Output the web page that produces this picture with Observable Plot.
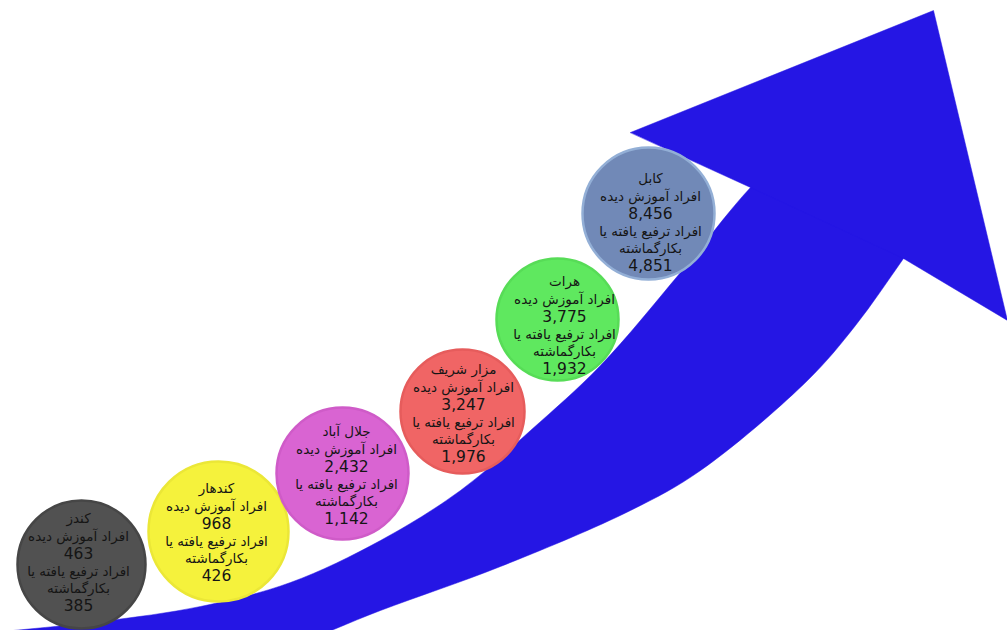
<!DOCTYPE html>
<html>
<head>
<meta charset="utf-8">
<script src="https://cdn.jsdelivr.net/npm/d3@7"></script>
<script src="https://cdn.jsdelivr.net/npm/@observablehq/plot@0.6"></script>
<style>
  html, body { margin: 0; padding: 0; background: #ffffff; }
  #chart svg { display: block; }
</style>
</head>
<body>
<div id="chart"></div>
<script>
// ---- data ----
const cities   = ["کندز", "کندهار", "جلال آباد", "مزار شریف", "هرات", "کابل"];
const trained  = [463, 968, 2432, 3247, 3775, 8456];
const promoted = [385, 426, 1142, 1976, 1932, 4851];
const labelTrained  = "افراد آموزش دیده";
const labelPromoted = ["افراد ترفیع یافته یا", "بکارگماشته"];
const fills   = ["#515151", "#f5f23c", "#d964d2", "#f06565", "#5fe85f", "#7189b7"];
const strokes = ["#464646", "#ebe737", "#cf5bc8", "#e65c5c", "#57dc57", "#93afd6"];

// ---- layout (infographic coordinates, 0..1007 x 0..630) ----
const cx = [81, 218, 342, 462, 557, 648];
const cy = [564, 531, 473, 411, 319, 213];
const cr = [64, 70, 66, 62, 61, 66];
const tx = [78, 216, 346, 463, 564, 650];
const ty = [562, 532, 475, 413, 325, 222];

// arrow outline (shaft drawn smooth, head drawn straight)
const shaftX = [-20, 100, 200, 290, 380, 460, 530, 600, 680, 750, 800, 880, 950, 903, 855, 807, 700, 630, 500, 380, 290, 150, -20];
const shaftY = [633, 621, 606, 582, 540, 490, 430, 365, 272, 187, 140, 120, 190, 258, 325, 380, 470, 510, 566, 610, 645, 680, 680];
const headX = [630, 933, 1007, 903, 750];
const headY = [132, 10, 320, 258, 187];

const shaft = shaftX.map((x, i) => ({x, y: shaftY[i]}));
const head = headX.map((x, i) => ({x, y: headY[i]}));
const fmt = d3.format(",");
const bubbles = cities.map((c, i) => ({
  city: c, cx: cx[i], cy: cy[i], r: cr[i], tx: tx[i], ty: ty[i],
  fill: fills[i], stroke: strokes[i],
  lines: [c, labelTrained, fmt(trained[i]), labelPromoted[0], labelPromoted[1], fmt(promoted[i])]
}));

const arrowBlue = "#2516e4";
const lineStep = 17.4;
const numericLine = [false, false, true, false, false, true];

const textMarks = numericLine.map((isNum, k) =>
  Plot.text(bubbles, {
    x: "tx", y: "ty", dy: (k - 2.5) * lineStep,
    text: d => d.lines[k],
    fontSize: isNum ? 15.5 : 13.5, fill: "#151515",
    fontFamily: "DejaVu Sans, sans-serif", textAnchor: "middle"
  })
);

const chart = Plot.plot({
  width: 1007,
  height: 630,
  margin: 0,
  x: {domain: [0, 1007], range: [0, 1007], axis: null},
  y: {domain: [0, 630], range: [0, 630], axis: null},
  r: {type: "identity"},
  style: {background: "#ffffff"},
  marks: [
    Plot.line(shaft, {x: "x", y: "y", curve: "catmull-rom", fill: arrowBlue, stroke: arrowBlue, strokeWidth: 0.5}),
    Plot.line(head, {x: "x", y: "y", curve: "linear-closed", fill: arrowBlue, stroke: arrowBlue, strokeWidth: 0.5}),
    Plot.dot(bubbles, {x: "cx", y: "cy", r: "r", fill: "fill", stroke: "stroke", strokeWidth: 2.5}),
    ...textMarks
  ]
});
document.getElementById("chart").append(chart);
</script>
</body>
</html>
